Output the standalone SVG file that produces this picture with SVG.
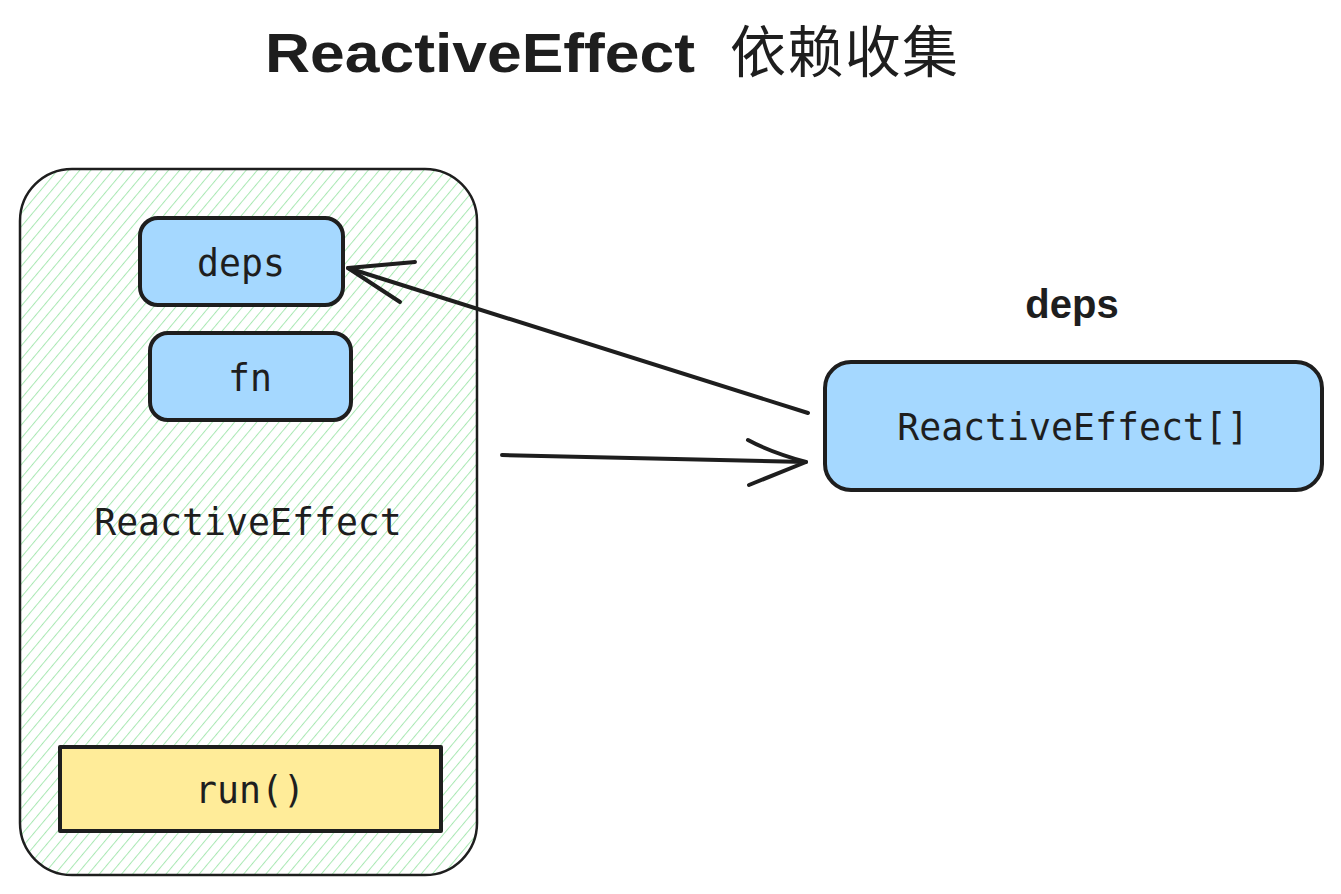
<svg xmlns="http://www.w3.org/2000/svg" width="1341" height="894" viewBox="0 0 1341 894">
<style>
.box{stroke:#1e1e1e;stroke-width:4;stroke-linejoin:round}
.blue{fill:#a5d8ff}
.mono{font-family:"DejaVu Sans Mono","Liberation Mono",monospace;fill:#1e1e1e;text-anchor:middle;dominant-baseline:central}
.hand{font-family:"Liberation Sans","Noto Sans CJK SC",sans-serif;fill:#1e1e1e}
.conn{stroke:#1e1e1e;stroke-width:4;fill:none;stroke-linecap:round;stroke-linejoin:round}
</style>
<defs>
<pattern id="hatch" patternUnits="userSpaceOnUse" width="8.5" height="8.5" patternTransform="rotate(40)">
<line x1="0" y1="0" x2="0" y2="8.5" stroke="#a9e8b3" stroke-width="2"/>
</pattern>
</defs>
<rect width="1341" height="894" fill="#ffffff"/>
<g id="title">
<text x="265" y="72" class="hand" font-size="56" font-weight="bold" textLength="430" lengthAdjust="spacingAndGlyphs">ReactiveEffect</text>
<text x="730" y="72" class="hand" font-size="56" font-family="'Noto Sans CJK SC',sans-serif" textLength="228">依赖收集</text>
</g>
<g id="container">
<rect x="20" y="169" width="457" height="706" rx="52" fill="url(#hatch)" stroke="#1e1e1e" stroke-width="2.5"/>
<text x="248" y="522" class="mono" font-size="36.5">ReactiveEffect</text>
</g>
<g id="deps-field">
<rect x="140" y="218" width="203" height="87" rx="18" class="box blue"/>
<text x="241" y="263" class="mono" font-size="36.5">deps</text>
</g>
<g id="fn-field">
<rect x="150" y="333" width="201" height="87" rx="18" class="box blue"/>
<text x="250" y="378" class="mono" font-size="36.5">fn</text>
</g>
<g id="run-method">
<rect x="60" y="747" width="381" height="84" class="box" fill="#ffec99"/>
<text x="250" y="790" class="mono" font-size="36.5">run()</text>
</g>
<g id="deps-label">
<text x="1072" y="318" class="hand" font-size="40" font-weight="bold" text-anchor="middle">deps</text>
</g>
<g id="deps-array">
<rect x="825" y="362" width="497" height="128" rx="26" class="box blue"/>
<text x="1073" y="427" class="mono" font-size="36.5">ReactiveEffect[]</text>
</g>
<g id="connectors">
<path class="conn" d="M808 413 L348 268"/>
<path class="conn" d="M415 262 L348 268 L400 302"/>
<path class="conn" d="M502 455 L806 462"/>
<path class="conn" d="M748 440 Q770 452 806 462 L749 485"/>
</g>
</svg>
